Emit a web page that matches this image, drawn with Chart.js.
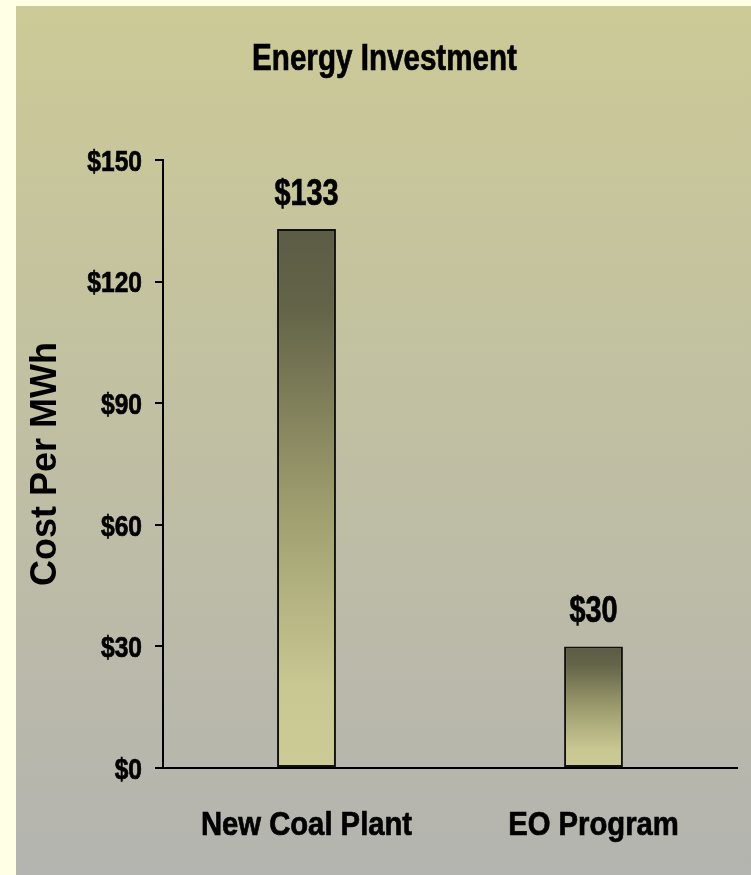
<!DOCTYPE html>
<html>
<head>
<meta charset="utf-8">
<title>Energy Investment</title>
<script src="https://cdn.jsdelivr.net/npm/chart.js@4/dist/chart.umd.min.js"></script>
<style>
  html, body { margin: 0; padding: 0; background: #ffffe5; }
  #wrap { position: absolute; left: 16px; top: 6px; width: 735px; height: 869px; }
</style>
</head>
<body>
<div id="wrap"><canvas id="chart_energy"></canvas></div>
<script>
// values
let categories = ["New Coal Plant", "EO Program"];
let costPerMWh = [133, 30];
let yTicks = [0, 30, 60, 90, 120, 150];
let chartTitle = "Energy Investment";

let sans = "'Liberation Sans', Arial, sans-serif";

// olive bar shade, dark at the top of each bar
var barStops = [[0, "#5c5c45"], [0.15, "#646449"], [0.5, "#9c9b6d"], [0.85, "#c9c893"], [1, "#cccb96"]];

function barFill(c) {
    let chart = c.chart;
    if (!chart.chartArea || c.type !== "data") return barStops[2][1];
    let y = chart.scales.y;
    let top = y.getPixelForValue(c.raw);
    let bottom = y.getPixelForValue(0);
    let g = chart.ctx.createLinearGradient(0, top, 0, bottom);
    barStops.forEach(s => g.addColorStop(s[0], s[1]));
    return g;
}

// no Arial Narrow here, so squeeze Liberation Sans Bold sideways
// (a hair of stroke puts back the weight lost by squeezing)
function narrowText(ctx, text, x, y, size, sx, align) {
    ctx.save();
    ctx.translate(x, y);
    ctx.scale(sx, 1);
    ctx.font = "bold " + size + "px " + sans;
    ctx.textAlign = align;
    ctx.textBaseline = "alphabetic";
    ctx.fillStyle = "#000";
    ctx.strokeStyle = "#000";
    ctx.lineWidth = 0.7;
    ctx.fillText(text, 0, 0);
    ctx.strokeText(text, 0, 0);
    ctx.restore();
}

let panelBg = {
    id: "panelBg",
    beforeDraw(chart) {
        let ctx = chart.ctx;
        let g = ctx.createLinearGradient(0, 0, 0, chart.height);
        g.addColorStop(0, "#ccca96");
        g.addColorStop(1, "#b4b4b0");
        ctx.save();
        ctx.fillStyle = g;
        ctx.fillRect(0, 0, chart.width, chart.height);
        ctx.restore();
    }
};

let narrowLabels = {
    id: "narrowLabels",
    afterDraw(chart) {
        let ctx = chart.ctx;
        let xs = chart.scales.x, ys = chart.scales.y;
        narrowText(ctx, chartTitle, chart.width / 2 + 1, 64, 37, 0.8, "center");
        yTicks.forEach(v => {
            narrowText(ctx, "$" + v, ys.right - 21, ys.getPixelForValue(v) + 10.8, 30, 0.82, "right");
        });
        categories.forEach((c, i) => {
            narrowText(ctx, c, xs.getPixelForValue(i), 829, 34, 0.86, "center");
        });
        chart.getDatasetMeta(0).data.forEach((bar, i) => {
            narrowText(ctx, "$" + costPerMWh[i], bar.x, bar.y - 24, 37, 0.78, "center");
        });
    }
};

let energy_elm = document.getElementById("chart_energy").getContext("2d");
new Chart(energy_elm, {
    type: "bar",
    data: {
        labels: categories,
        datasets: [{
            data: costPerMWh,
            backgroundColor: barFill,
            borderColor: "#111",
            borderWidth: 2,
            borderSkipped: false,
            categoryPercentage: 1,
            barPercentage: 0.205,
        }]
    },
    options: {
        responsive: true,
        maintainAspectRatio: false,
        animation: false,
        layout: { padding: { top: 154, right: 14 } },
        plugins: {
            legend: { display: false },
            tooltip: { enabled: false },
            title: { display: false },
        },
        scales: {
            x: {
                grid: { display: false, drawTicks: false },
                border: { display: true, color: "#000", width: 2 },
                ticks: { display: false },
                afterFit: s => { s.height = 107; },
            },
            y: {
                min: 0,
                max: 150,
                afterBuildTicks: s => { s.ticks = yTicks.map(v => ({ value: v })); },
                grid: { drawOnChartArea: false, drawTicks: true, tickLength: 8, color: "#000", lineWidth: 2 },
                border: { display: true, color: "#000", width: 2 },
                ticks: { display: false },
                title: {
                    display: true,
                    text: "Cost Per MWh",
                    color: "#000",
                    font: { family: sans, size: 36, weight: "bold" },
                    padding: { top: 8, bottom: 0 },
                },
                afterFit: s => { s.width = 147; },
            },
        },
    },
    plugins: [panelBg, narrowLabels],
});
</script>
</body>
</html>
